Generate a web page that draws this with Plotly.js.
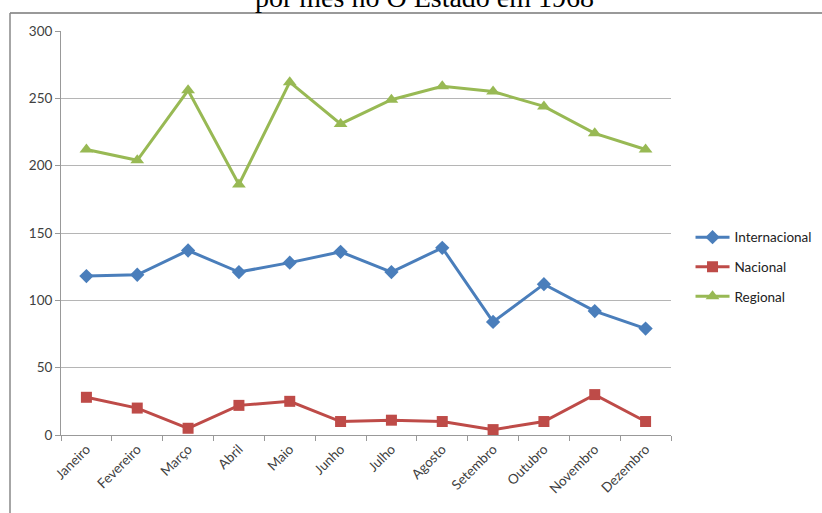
<!DOCTYPE html>
<html>
<head>
<meta charset="utf-8">
<script src="https://cdn.plot.ly/plotly-3.0.1.min.js"></script>
<style>html,body{margin:0;padding:0;background:#fff;}#chart{width:822px;height:513px;}</style>
</head>
<body>
<div id="chart"></div>
<script>
const meses = ["Janeiro","Fevereiro","Março","Abril","Maio","Junho","Julho","Agosto","Setembro","Outubro","Novembro","Dezembro"];
const internacional = [118,119,137,121,128,136,121,139,84,112,92,79];
const nacional = [28,20,5,22,25,10,11,10,4,10,30,10];
const regional = [212,204,256,186,262,231,249,259,255,244,224,212];
const tituloTexto = "por mês no O Estado em 1968";
const yTicks = [0,50,100,150,200,250,300];

const traces = [
  {x: meses, y: internacional, name: "Internacional", legendgroup: "a", type: "scatter", mode: "lines+markers",
   line: {color: "#4a7ebb", width: 3}, marker: {symbol: "diamond", size: 11, color: "#4a7ebb"}},
  {x: meses, y: nacional, name: "Nacional", legendgroup: "b", type: "scatter", mode: "lines+markers",
   line: {color: "#be4b48", width: 3}, marker: {symbol: "square", size: 11, color: "#be4b48"}},
  {x: meses, y: regional, name: "Regional", legendgroup: "c", type: "scatter", mode: "lines+markers",
   line: {color: "#98b954", width: 3}, marker: {symbol: "triangle-up", size: 12, color: "#98b954"}}
];

const layout = {
  width: 822, height: 513,
  paper_bgcolor: "#ffffff", plot_bgcolor: "#ffffff",
  margin: {l: 61, r: 151, t: 31, b: 78, autoexpand: false},
  font: {family: "Lato, 'Open Sans', sans-serif", size: 12, color: "#404040"},
  showlegend: true,
  legend: {x: 1.032, y: 0.416, xanchor: "left", yanchor: "middle", font: {size: 13.5, color: "#222"},
           traceorder: "grouped", tracegroupgap: 9, itemwidth: 34, bgcolor: "rgba(0,0,0,0)"},
  xaxis: {type: "category", range: [-0.5, 11.5], tickangle: -45, tickson: "boundaries", automargin: false,
          ticks: "outside", ticklen: 5, tickcolor: "#999", showline: true, linecolor: "#999",
          linewidth: 1, showgrid: false, tickfont: {size: 13.5, color: "#404040"}, fixedrange: true},
  yaxis: {range: [0, 300], tickvals: yTicks, ticks: "outside", ticklen: 5, tickcolor: "#999", automargin: false,
          showline: true, linecolor: "#999", linewidth: 1, gridcolor: "#b5b5b5", gridwidth: 1,
          zeroline: false, tickfont: {size: 13.5, color: "#404040"}, fixedrange: true},
  shapes: [
    {type: "line", xref: "paper", yref: "paper", x0: -51/610, x1: 761/610, y0: 1 + 18/404, y1: 1 + 18/404,
     line: {color: "#777", width: 1.5}},
    {type: "line", xref: "paper", yref: "paper", x0: -51/610, x1: -51/610, y0: 1 + 18/404, y1: -78/404,
     line: {color: "#888", width: 1.5}}
  ],
  annotations: [
    {text: tituloTexto, xref: "paper", yref: "paper", x: (424-61)/610, y: 1 + 16/404,
     xanchor: "center", yanchor: "bottom", showarrow: false,
     font: {family: "'Liberation Serif', 'DejaVu Serif', serif", size: 28, color: "#000"}}
  ]
};

Plotly.newPlot("chart", traces, layout, {displayModeBar: false, staticPlot: true});
</script>
</body>
</html>
